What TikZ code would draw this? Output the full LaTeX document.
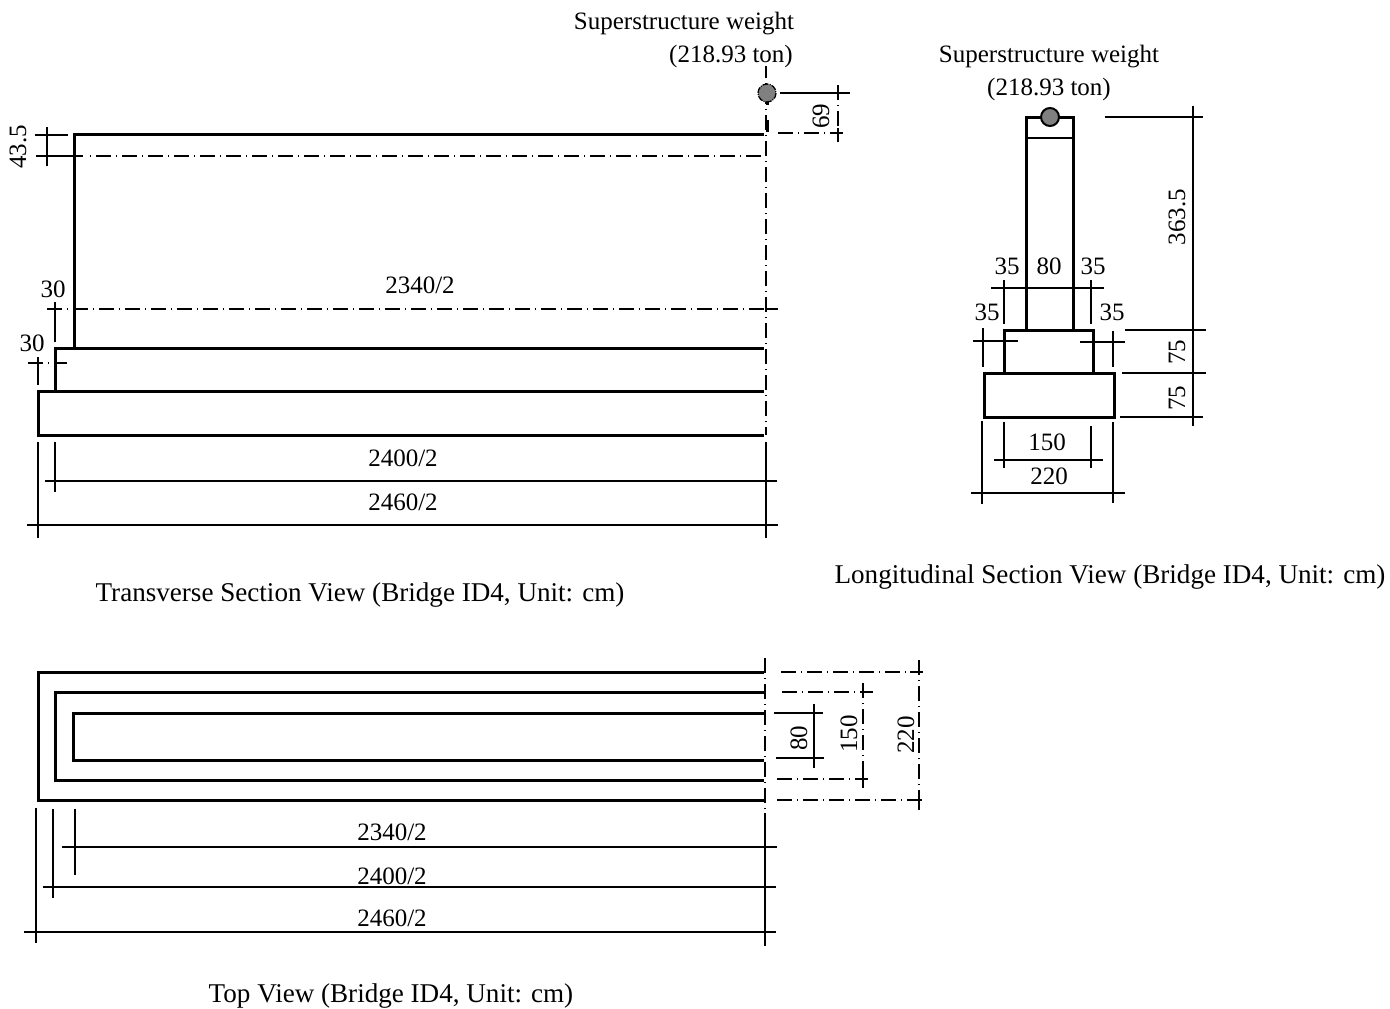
\documentclass[tikz,border=0pt]{standalone}
\usepackage{fontspec}
\setmainfont{Liberation Serif}
\tikzset{
	bodyline/.style={line width=1.5pt},
	dimline/.style={line width=0.65pt},
	axisline/.style={line width=0.65pt, dash pattern=on 7.5pt off 2.5pt on 0.5pt off 2.5pt},
	label/.style={inner sep=0pt, font=\fontsize{12.5}{15}\selectfont},
	vlabel/.style={label, rotate=90},
	caption/.style={inner sep=0pt, font=\fontsize{13.55}{16}\selectfont}
}
\begin{document}
\begin{tikzpicture}[x=0.5pt, y=-0.5pt]
	\useasboundingbox (0,0) rectangle (1390,1008);
	
	% transverse section
	\draw [bodyline] (764,134) -- (74,134) -- (74,348);
	\draw [bodyline] (764,348) -- (55,348) -- (55,391);
	\draw [bodyline] (764,391) -- (38,391) -- (38,435) -- (764,435);
	
	\draw [axisline, dash phase=1.5pt] (766,66) -- (766,435);
	\draw [fill={rgb,255:red,128;green,128;blue,128}, axisline, dash pattern=on 3pt off 0.6pt on 0.5pt off 0.6pt] (767,93) circle (9);
	\draw [line width=1.5pt] (767,120) -- (767,132);
	\draw [line width=1.5pt] (767,102) -- (767,105);
	
	\foreach \s/\t/\u/\v in {780/93/850/93, 35/135/68/135, 47/127/47/166, 36/156/83/156, 55/302/55/342, 38/357/38/385, 55/442/55/492, 38/442/38/538, 766/442/766/538, 45/481/777/481, 27/525/778/525, 838/128/838/142, 830/133/843/133, 766/309/778/309}
	{
		\draw [dimline] (\s,\t) -- (\u,\v);
	}
	\foreach \s/\t/\u/\v in {778/133/830/133, 838/85/838/128, 47/309/766/309, 28/363/67/363}
	{
		\draw [axisline] (\s,\t) -- (\u,\v);
	}
	\draw [axisline, dash phase=7.5pt] (85,156) -- (764,156);
	
	\node (loadA) [label] at (684,24) {Superstructure weight};
	\node (tonA) [label] at (731,56) {(218.93 ton)};
	\node (dimSixtyNine) [vlabel] at (821,116) {69};
	\node (dimCap) [vlabel] at (18,147) {43.5};
	\node (dimStepA) [label] at (53,289) {30};
	\node (dimStepB) [label] at (32,343) {30};
	\node (dimWall) [label] at (420,285) {2340/2};
	\node (dimStem) [label] at (403,458) {2400/2};
	\node (dimBase) [label] at (403,502) {2460/2};
	\node (capTransverse) [caption] at (360,595) {Transverse Section View (Bridge ID4, Unit: cm)};
	
	% longitudinal section
	\draw [bodyline] (1026,330) -- (1026,117) -- (1073,117) -- (1073,330);
	\draw [dimline] (1026,138) -- (1073,138);
	\draw [bodyline] (1004,373) -- (1004,330) -- (1093,330) -- (1093,373);
	\draw [bodyline] (984,373) rectangle (1114,417);
	\draw [line width=1pt, fill={rgb,255:red,128;green,128;blue,128}] (1050,117) circle (9);
	
	\foreach \s/\t/\u/\v in {1193/106/1193/426, 1105/117/1203/117, 1125/330/1206/330, 1122/373/1206/373, 1120/417/1203/417, 991/288/1104/288, 1004/280/1004/324, 1091/280/1091/324, 973/341/1018/341, 983/328/983/367, 1080/342/1125/342, 1113/331/1113/367, 982/421/982/504, 1113/422/1113/503, 1004/422/1004/468, 1091/426/1091/468, 994/460/1103/460, 971/493/1125/493}
	{
		\draw [dimline] (\s,\t) -- (\u,\v);
	}
	
	\node (loadB) [label] at (1049,57) {Superstructure weight};
	\node (tonB) [label] at (1049,89) {(218.93 ton)};
	\node (dimHeight) [vlabel] at (1177,217) {363.5};
	\node (dimUpper) [vlabel] at (1177,352) {75};
	\node (dimLower) [vlabel] at (1177,398) {75};
	\node (dimLeftA) [label] at (1007,266) {35};
	\node (dimColumn) [label] at (1049,266) {80};
	\node (dimRightA) [label] at (1093,266) {35};
	\node (dimLeftB) [label] at (987,312) {35};
	\node (dimRightB) [label] at (1112,312) {35};
	\node (dimMid) [label] at (1047,442) {150};
	\node (dimFoot) [label] at (1049,476) {220};
	\node (capLongitudinal) [caption] at (1110,577) {Longitudinal Section View (Bridge ID4, Unit: cm)};
	
	% top view
	\draw [bodyline] (764,672) -- (38,672) -- (38,800) -- (764,800);
	\draw [bodyline] (764,692) -- (55,692) -- (55,780) -- (764,780);
	\draw [bodyline] (764,713) -- (73,713) -- (73,760) -- (764,760);
	
	\foreach \s/\t/\u/\v in {765/658/765/812, 781/672/910/672, 919/660/919/798, 777/800/927/800, 782/692/873/692, 863/683/863/775, 777/779/855/779}
	{
		\draw [axisline] (\s,\t) -- (\u,\v);
	}
	\foreach \s/\t/\u/\v in {765/813/765/946, 36/808/36/943, 53/809/53/898, 75/809/75/875, 62/847/777/847, 43/887/776/887, 24/932/776/932, 774/713/823/713, 776/758/824/758, 814/704/814/768, 910/672/923/672, 919/798/919/810, 863/775/863/788, 855/779/868/779}
	{
		\draw [dimline] (\s,\t) -- (\u,\v);
	}
	
	\node (dimTopWall) [label] at (392,832) {2340/2};
	\node (dimTopStem) [label] at (392,876) {2400/2};
	\node (dimTopBase) [label] at (392,918) {2460/2};
	\node (dimTopCol) [vlabel] at (799,738) {80};
	\node (dimTopMid) [vlabel] at (849,734) {150};
	\node (dimTopFoot) [vlabel] at (906,735) {220};
	\node (capTop) [caption] at (391,996) {Top View (Bridge ID4, Unit: cm)};
	
\end{tikzpicture}
\end{document}
